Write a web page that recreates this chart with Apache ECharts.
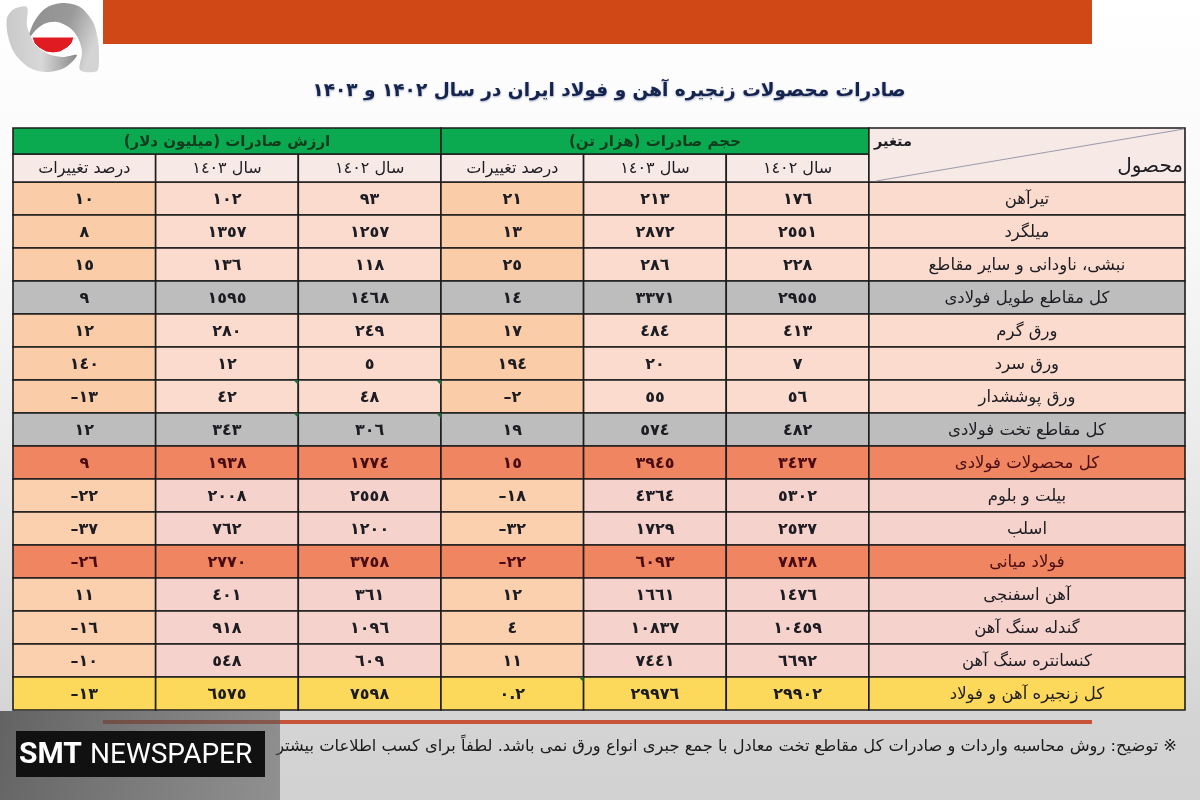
<!DOCTYPE html>
<html>
<head>
<meta charset="utf-8">
<title>صادرات محصولات زنجیره آهن و فولاد</title>
<style>
html, body { margin: 0; padding: 0; background: #fff; }
#chart { width: 1200px; height: 800px; }
</style>
<script src="https://cdn.jsdelivr.net/npm/echarts@6/dist/echarts.min.js"></script>
</head>
<body>
<div id="chart"></div>
<script>
const products = ['تیرآهن', 'میلگرد', 'نبشی، ناودانی و سایر مقاطع', 'کل مقاطع طویل فولادی', 'ورق گرم', 'ورق سرد', 'ورق پوششدار', 'کل مقاطع تخت فولادی', 'کل محصولات فولادی', 'بیلت و بلوم', 'اسلب', 'فولاد میانی', 'آهن اسفنجی', 'گندله سنگ آهن', 'کنسانتره سنگ آهن', 'کل زنجیره آهن و فولاد'];
const volume1402 = [176, 2551, 228, 2955, 413, 7, 56, 482, 3437, 5302, 2537, 7838, 1476, 10459, 6692, 29902];
const volume1403 = [213, 2872, 286, 3371, 484, 20, 55, 574, 3945, 4364, 1729, 6093, 1661, 10837, 7441, 29976];
const volumeChange = [21, 13, 25, 14, 17, 194, -2, 19, 15, -18, -32, -22, 12, 4, 11, 0.2];
const value1402 = [93, 1257, 118, 1468, 249, 5, 48, 306, 1774, 2558, 1200, 3758, 361, 1096, 609, 7598];
const value1403 = [102, 1357, 136, 1595, 280, 12, 42, 343, 1938, 2008, 762, 2770, 401, 918, 548, 6575];
const valueChange = [10, 8, 15, 9, 12, 140, -13, 12, 9, -22, -37, -26, 11, -16, -10, -13];
// row style: 'a' light, 'g' subtotal grey, 'o' orange total, 'b' pinker light, 'y' yellow grand total
const rowKinds = ['a', 'a', 'a', 'g', 'a', 'a', 'a', 'g', 'o', 'b', 'b', 'o', 'b', 'b', 'b', 'y'];
const groupHeaders = ['ارزش صادرات (میلیون دلار)', 'حجم صادرات (هزار تن)'];
const subHeaders = ['درصد تغییرات', 'سال ۱٤۰۳', 'سال ۱٤۰۲', 'درصد تغییرات', 'سال ۱٤۰۳', 'سال ۱٤۰۲'];
// excel style corner flags: table column edge, row
const cornerFlags = [[2, 6], [3, 6], [2, 7], [3, 7], [4, 15]];

const titleText = 'صادرات محصولات زنجیره آهن و فولاد ایران در سال ۱۴۰۲ و ۱۴۰۳';
const noteText = '※ توضیح: روش محاسبه واردات و صادرات کل مقاطع تخت معادل با جمع جبری انواع ورق نمی باشد. لطفاً برای کسب اطلاعات بیشتر';

const FONT = '"DejaVu Sans", sans-serif';
const fills = {
    a: { cell: '#fadbcd', change: '#fbcca8', text: '#1c1c22' },
    g: { cell: '#bdbdbd', change: '#bdbdbd', text: '#1c1c22' },
    o: { cell: '#ef8661', change: '#ef8661', text: '#4a0c12' },
    b: { cell: '#f6d2cc', change: '#fbd0ae', text: '#1c1c22' },
    y: { cell: '#fcd95b', change: '#fcd95b', text: '#1c1c22' }
};

// force right-to-left order on Persian strings, the canvas base direction is ltr
function rtl(str) {
    return '\u202B' + str + '\u202C';
}

function toArabicDigits(num) {
    return String(Math.abs(num)).replace(/\d/g, function (d) {
        return '٠١٢٣٤٥٦٧٨٩'[d];
    }).replace(/^/, num < 0 ? '–' : '');
}

// table units: one number column is 1 wide, one body row is 1 high
const LABEL_START = 6;
const TABLE_END = 8.216;
const GROUP_TOP = -1.636;
const SUB_TOP = -0.848;

function buildCells() {
    const cells = [];
    const columns = [valueChange, value1403, value1402, volumeChange, volume1403, volume1402];
    products.forEach(function (name, row) {
        const style = fills[rowKinds[row]];
        columns.forEach(function (col, c) {
            const isChange = c === 0 || c === 3;
            cells.push([c, c + 1, row, row + 1, toArabicDigits(col[row]), isChange ? style.change : style.cell, style.text, 'bold 16px ' + FONT]);
        });
        cells.push([LABEL_START, TABLE_END, row, row + 1, rtl(name), style.cell, style.text, '16.5px ' + FONT]);
    });
    subHeaders.forEach(function (label, c) {
        cells.push([c, c + 1, SUB_TOP, 0, rtl(label), '#f7e9e6', '#1c1c22', '16px ' + FONT]);
    });
    groupHeaders.forEach(function (label, g) {
        cells.push([g * 3, g * 3 + 3, GROUP_TOP, SUB_TOP, rtl(label), '#0ba950', '#123a1c', 'bold 15px ' + FONT]);
    });
    cells.push([LABEL_START, TABLE_END, GROUP_TOP, 0, '', '#f7e9e6', '#1c1c22', '13px ' + FONT]);
    return cells;
}

function renderCell(params, api) {
    const p0 = api.coord([api.value(0), api.value(2)]);
    const p1 = api.coord([api.value(1), api.value(3)]);
    const w = p1[0] - p0[0];
    const h = p1[1] - p0[1];
    const children = [{
        type: 'rect',
        shape: { x: p0[0], y: p0[1], width: w, height: h },
        style: { fill: api.value(5), stroke: '#1d1d1d', lineWidth: 1.6 }
    }];
    const label = api.value(4);
    if (label) {
        children.push({
            type: 'text',
            style: {
                x: p0[0] + w / 2,
                y: p0[1] + h / 2 + 1,
                text: label,
                fill: api.value(6),
                font: api.value(7),
                align: 'center',
                verticalAlign: 'middle'
            }
        });
    }
    return { type: 'group', children: children };
}

function renderFlag(params, api) {
    const p = api.coord([api.value(0), api.value(1)]);
    return {
        type: 'polygon',
        shape: { points: [[p[0] - 5, p[1]], [p[0], p[1]], [p[0], p[1] + 5]] },
        style: { fill: '#1f6b3a' }
    };
}

const chart = echarts.init(document.getElementById('chart'));

chart.setOption({
    animation: false,
    title: {
        text: rtl(titleText),
        left: 604,
        top: 77,
        textAlign: 'center',
        textStyle: {
            fontFamily: FONT,
            fontWeight: 'bold',
            fontSize: 18.5,
            color: '#15244e',
            textShadowColor: 'rgba(40,60,120,0.45)',
            textShadowBlur: 2,
            textShadowOffsetY: 1
        }
    },
    grid: { left: 13, right: 15, top: 128, bottom: 90 },
    xAxis: { type: 'value', min: 0, max: TABLE_END, show: false },
    yAxis: { type: 'value', min: GROUP_TOP, max: 16, inverse: true, show: false },
    series: [{
        type: 'custom',
        silent: true,
        z: 2,
        renderItem: renderCell,
        encode: { x: [0, 1], y: [2, 3] },
        data: buildCells()
    }, {
        type: 'custom',
        silent: true,
        z: 3,
        renderItem: renderFlag,
        encode: { x: 0, y: 1 },
        data: cornerFlags
    }],
    graphic: [
        {
            type: 'rect', z: -10, silent: true,
            shape: { x: 0, y: 0, width: 1200, height: 800 },
            style: {
                fill: new echarts.graphic.LinearGradient(0, 0, 0, 1, [
                    { offset: 0, color: '#ffffff' },
                    { offset: 0.3, color: '#f8f8f8' },
                    { offset: 0.65, color: '#e6e6e6' },
                    { offset: 0.9, color: '#d4d4d4' },
                    { offset: 1, color: '#d2d2d2' }
                ])
            }
        },
        // top banner and rule under the table
        { type: 'rect', z: 1, silent: true, shape: { x: 103, y: 0, width: 989, height: 44 }, style: { fill: '#d04815' } },
        { type: 'rect', z: 1, silent: true, shape: { x: 103, y: 720, width: 989, height: 4 }, style: { fill: '#c8553a' } },
        // logo
        {
            type: 'polygon', z: 3, silent: true,
            shape: { points: [[27, 42], [34, 22], [46, 8], [62, 3], [80, 7], [93, 22], [98, 40], [99, 58], [97, 71], [80, 70], [82, 52], [78, 38], [70, 28], [57, 22], [44, 24], [34, 32]], smooth: 0.3 },
            style: {
                fill: new echarts.graphic.LinearGradient(0, 0, 1, 0.4, [
                    { offset: 0, color: '#8e8e8e' },
                    { offset: 0.6, color: '#9a9a9a' },
                    { offset: 1, color: '#d4d4d4' }
                ])
            }
        },
        {
            type: 'polygon', z: 3, silent: true,
            shape: { points: [[27, 7], [14, 9], [7, 18], [8, 36], [15, 54], [30, 68], [48, 72], [66, 67], [77, 55], [62, 57], [46, 53], [34, 42], [27, 26]], smooth: 0.3 },
            style: {
                fill: new echarts.graphic.LinearGradient(0, 0, 1, 0, [
                    { offset: 0, color: '#c9c9c9' },
                    { offset: 0.5, color: '#d8d8d8' },
                    { offset: 1, color: '#8a8a8a' }
                ])
            }
        },
        {
            type: 'polygon', z: 4, silent: true,
            shape: { points: [[32, 37], [74, 37], [72, 43], [67, 48], [60, 52], [53, 53], [46, 52], [39, 48], [34, 43]] },
            style: { fill: '#e11b22', stroke: '#ffffff', lineWidth: 1 }
        },
        // diagonal header cell
        {
            type: 'line', z: 5, silent: true,
            shape: { x1: 1184, y1: 129, x2: 876, y2: 181 },
            style: { stroke: '#9c9cab', lineWidth: 1.2 }
        },
        { type: 'text', z: 5, silent: true, style: { x: 912, y: 142, text: rtl('متغیر'), font: 'bold 14.5px ' + FONT, fill: '#1c1c22', align: 'right', verticalAlign: 'middle' } },
        { type: 'text', z: 5, silent: true, style: { x: 1183, y: 167, text: rtl('محصول'), font: '20px ' + FONT, fill: '#1c1c22', align: 'right', verticalAlign: 'middle' } },
        // footnote
        { type: 'text', z: 5, silent: true, style: { x: 1177, y: 747, text: rtl(noteText), font: '16.3px ' + FONT, fill: '#1c1c1c', align: 'right', verticalAlign: 'middle' } },
        // newspaper overlay
        {
            type: 'rect', z: 20, silent: true,
            shape: { x: 0, y: 711, width: 280, height: 89 },
            style: {
                fill: new echarts.graphic.LinearGradient(0, 0, 1, 1, [
                    { offset: 0, color: 'rgba(70,70,70,0.8)' },
                    { offset: 1, color: 'rgba(90,90,90,0.55)' }
                ])
            }
        },
        { type: 'rect', z: 21, silent: true, shape: { x: 16, y: 731, width: 249, height: 46 }, style: { fill: '#111111' } },
        { type: 'text', z: 22, silent: true, style: { x: 19, y: 755, text: 'SMT', font: 'bold 30px Roboto, sans-serif', fill: '#ffffff', align: 'left', verticalAlign: 'middle' } },
        { type: 'text', z: 22, silent: true, style: { x: 90, y: 756, text: 'NEWSPAPER', font: '28px "Liberation Sans Narrow", Roboto, sans-serif', fill: '#ffffff', align: 'left', verticalAlign: 'middle' } }
    ]
});
</script>
</body>
</html>
